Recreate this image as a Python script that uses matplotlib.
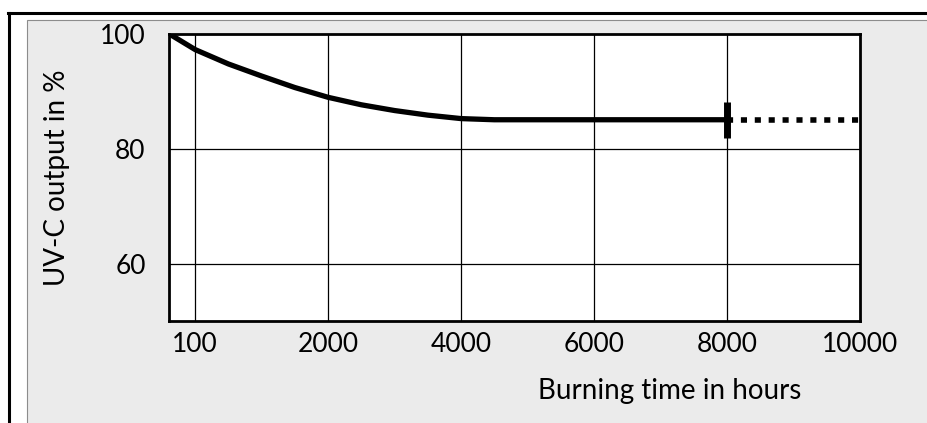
import matplotlib
matplotlib.use("Agg")
import matplotlib.pyplot as plt
from matplotlib.patches import Rectangle
from matplotlib.lines import Line2D

plt.rcParams['font.family'] = ['Lato', 'DejaVu Sans']

# data
hours = [-400, -200, 0, 500, 1000, 1500, 2000, 2500, 3000, 3500, 4000, 4500, 8000]
output = [100, 98.6, 97.2, 94.7, 92.6, 90.6, 88.9, 87.6, 86.6, 85.8, 85.2, 85.0, 85.0]
ext_hours = [8000, 10000]
ext_output = [85, 85]
marker_hours = [8000, 8000]
marker_output = [81.9, 88.1]

xticks = [0, 2000, 4000, 6000, 8000, 10000]
xticklabels = ["100", "2000", "4000", "6000", "8000", "10000"]
yticks = [60, 80, 100]
yticklabels = ["60", "80", "100"]

W, H = 928, 423
fig = plt.figure(figsize=(W / 100, H / 100), dpi=100)
fig.patch.set_facecolor("white")

def fx(px):
    return px / W

def fy(py):
    return 1 - py / H

# gray panel
fig.add_artist(Rectangle((fx(27), fy(H + 5)), fx(W + 5) - fx(27), fy(20) - fy(H + 5),
                         facecolor="#ebebeb", edgecolor="#8c8c8c", lw=0.8, zorder=-2))
# outer black frame (top and left)
fig.add_artist(Line2D([fx(8), fx(W + 5)], [fy(13), fy(13)], color="black", lw=2.2, zorder=-1))
fig.add_artist(Line2D([fx(9), fx(9)], [fy(13), fy(H + 5)], color="black", lw=2.2, zorder=-1))

ax_left, ax_right = 168.6, 860
ax = fig.add_axes([fx(ax_left), fy(321), fx(ax_right) - fx(ax_left), fy(33.5) - fy(321)])
ax.set_zorder(2)
ax.set_facecolor("white")
ax.set_xlim(-400, 10000)
ax.set_ylim(50, 100)

ax.set_xticks(xticks)
ax.set_xticklabels(xticklabels)
ax.set_yticks(yticks)
ax.set_yticklabels(yticklabels)
ax.tick_params(length=0, labelsize=19, colors="black")
ax.tick_params(axis="y", pad=16.5)
ax.tick_params(axis="x", pad=8)

for xv in xticks[:-1]:
    ax.axvline(xv, color="black", lw=0.9, zorder=1)
for yv in [60, 80]:
    ax.axhline(yv, color="black", lw=0.9, zorder=1)

for s in ax.spines.values():
    s.set_linewidth(2.0)
    s.set_color("black")

ax.plot(hours, output, color="black", lw=3.8, solid_capstyle="butt", zorder=3)
ax.plot(ext_hours, ext_output, color="black", lw=4.0, linestyle=(0, (1.1, 1.4)),
        dash_capstyle="butt", zorder=3)
ax.plot(marker_hours, marker_output, color="black", lw=5.0, solid_capstyle="butt", zorder=4)

ax.set_ylabel("UV-C output in %", fontsize=20)
ax.yaxis.set_label_coords((57 - ax_left) / (ax_right - ax_left), 0.5)
ax.yaxis.label.set_va("center")
fig.text(fx(669.5), fy(391), "Burning time in hours", fontsize=20, ha="center", va="center")

fig.savefig("out.png", dpi=100)
